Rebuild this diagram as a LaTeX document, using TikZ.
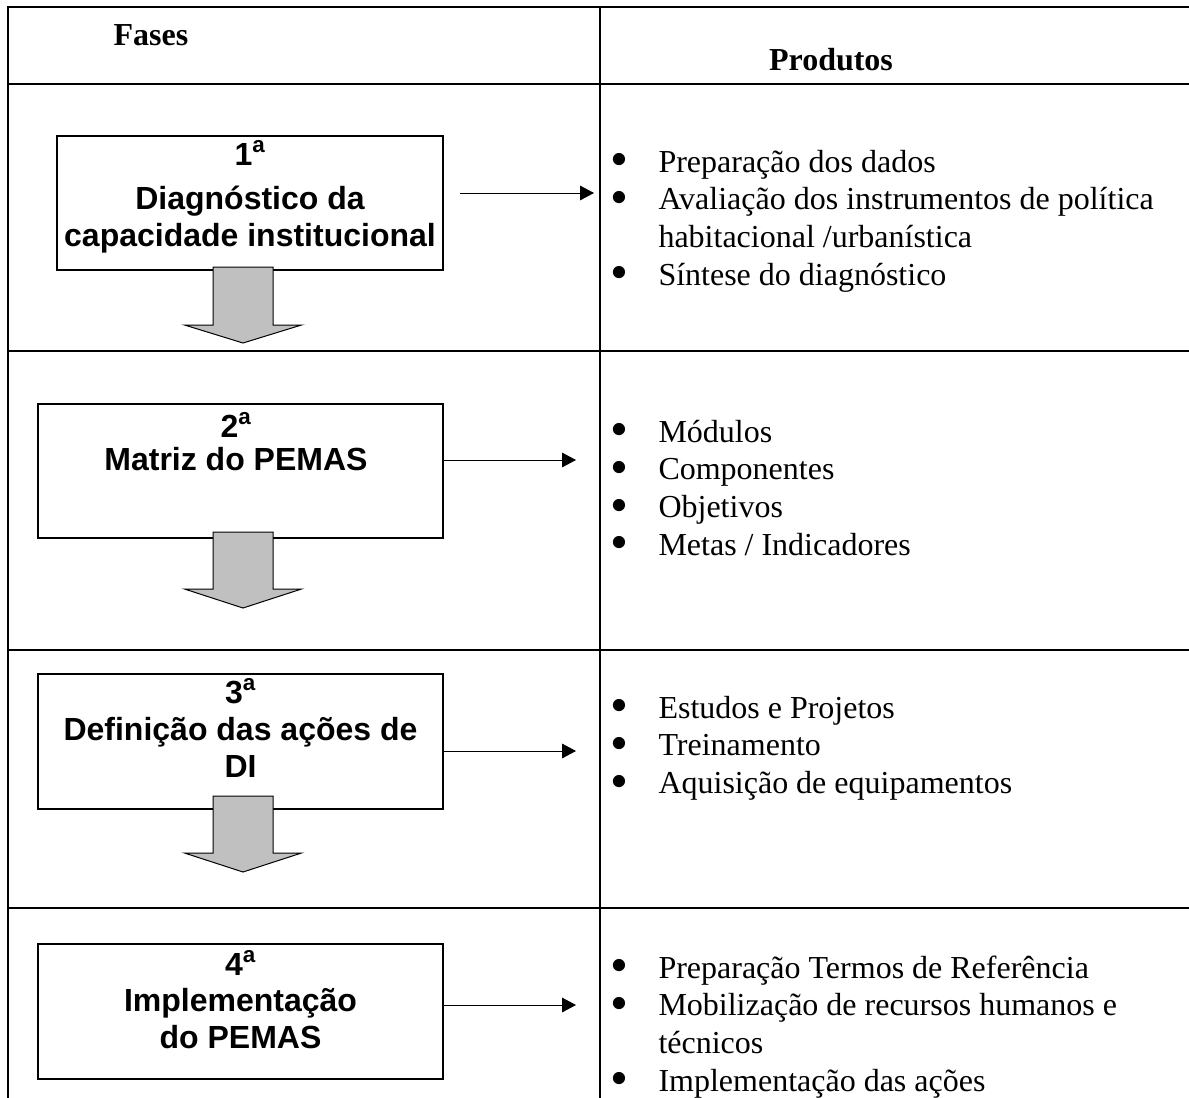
\documentclass[tikz,border=0pt]{standalone}
\usepackage{fontspec}
\setmainfont{Liberation Serif}
\newfontfamily\arialfont{Liberation Sans}
\usetikzlibrary{arrows.meta}
\definecolor{cinza}{RGB}{192,192,192}
\newcommand{\marca}{\smash{\raisebox{-3.5pt}{\scalebox{1.6}{\textbullet}}}}

\tikzset{every picture/.style={line width=0.75pt}}
\tikzset{
  grade/.style={line width=1.5pt},
  fase/.style={draw, line width=1pt, inner sep=0pt, fill=white},
  fasetxt/.style={inner sep=0pt, anchor=base, font=\arialfont\bfseries\fontsize{24}{27.4}\selectfont},
  produto/.style={inner sep=0pt, anchor=base west, font=\fontsize{24}{28.3}\selectfont},
  titulo/.style={inner sep=0pt, anchor=base, font=\bfseries\fontsize{24}{28}\selectfont},
  seta/.style={line width=0.75pt, -{Triangle[length=10.5pt,width=11pt]}},
  setafase/.style={draw=black, line width=0.75pt, fill=cinza, line join=miter},
}

\begin{document}
\begin{tikzpicture}[x=0.75pt,y=0.75pt,yscale=-1,xscale=1]
\clip (0,0) rectangle (1189,1097);
\path[fill=white] (0,0) rectangle (1189,1097);

%Table lines
\draw[grade] (8,7) -- (1195,7);
\draw[grade] (8,6) -- (8,1105);
\draw[grade] (600,7) -- (600,1105);
\draw[grade] (8,84) -- (1195,84);
\draw[grade] (8,351) -- (1195,351);
\draw[grade] (8,650) -- (1195,650);
\draw[grade] (8,908) -- (1195,908);

% Text Node
\node[titulo] (fases) at (151,45) {Fases};
% Text Node
\node[titulo] (produtos) at (831,70) {Produtos};

%Shape: Rectangle
\node[fase, minimum width=289.5pt, minimum height=100.5pt] (f1) at (250,203) {};
\node[fasetxt] (f1t) at (250,165) {\begin{tabular}[t]{@{}c@{}}1\textsuperscript{a}\\[6pt]Diagnóstico da\\capacidade institucional\end{tabular}};
%Shape: Rectangle
\node[fase, minimum width=303.75pt, minimum height=100.5pt] (f2) at (240.5,471) {};
\node[fasetxt] (f2t) at (236,437) {\begin{tabular}[t]{@{}c@{}}2\textsuperscript{a}\\[-2pt]Matriz do PEMAS\end{tabular}};
%Shape: Rectangle
\node[fase, minimum width=303.75pt, minimum height=101.25pt] (f3) at (240.5,741.5) {};
\node[fasetxt] (f3t) at (240.5,703) {\begin{tabular}[t]{@{}c@{}}3\textsuperscript{a}\\[1pt]Definição das ações de\\DI\end{tabular}};
%Shape: Rectangle
\node[fase, minimum width=303.75pt, minimum height=101.25pt] (f4) at (240.5,1011.5) {};
\node[fasetxt] (f4t) at (240.5,975) {\begin{tabular}[t]{@{}c@{}}4\textsuperscript{a}\\Implementação\\do PEMAS\end{tabular}};

%Down Arrow
\draw[setafase] (213,267) -- (273,267) -- (273,325) -- (301.5,325) -- (243,343) -- (184.5,325) -- (213,325) -- cycle;
%Down Arrow
\draw[setafase] (213,532) -- (273,532) -- (273,589) -- (301.5,589) -- (243,608) -- (184.5,589) -- (213,589) -- cycle;
%Down Arrow
\draw[setafase] (213,796) -- (273,796) -- (273,853) -- (301.5,853) -- (243,872) -- (184.5,853) -- (213,853) -- cycle;

%Straight Lines
\coordinate (s1) at (460,193);
\coordinate (e1) at (594,193);
\coordinate (e2) at (576,460);
\coordinate (e3) at (576,751);
\coordinate (e4) at (576,1005);
\draw[seta] (s1) -- (e1);
\draw[seta] (f2.east |- e2) -- (e2);
\draw[seta] (f3.east |- e3) -- (e3);
\draw[seta] (f4.east |- e4) -- (e4);

% Text Node
\node[produto] (p1) at (610,172) {\begin{tabular}[t]{@{}p{36pt}@{}l@{}}
\marca & Preparação dos dados\\
\marca & Avaliação dos instrumentos de política\\
 & habitacional /urbanística\\
\marca & Síntese do diagnóstico\end{tabular}};
% Text Node
\node[produto] (p2) at (610,442) {\begin{tabular}[t]{@{}p{36pt}@{}l@{}}
\marca & Módulos\\
\marca & Componentes\\
\marca & Objetivos\\
\marca & Metas / Indicadores\end{tabular}};
% Text Node
\node[produto] (p3) at (610,718) {\begin{tabular}[t]{@{}p{36pt}@{}l@{}}
\marca & Estudos e Projetos\\
\marca & Treinamento\\
\marca & Aquisição de equipamentos\end{tabular}};
% Text Node
\node[produto] (p4) at (610,978) {\begin{tabular}[t]{@{}p{36pt}@{}l@{}}
\marca & Preparação Termos de Referência\\
\marca & Mobilização de recursos humanos e\\
 & técnicos\\
\marca & Implementação das ações\end{tabular}};

\end{tikzpicture}
\end{document}
